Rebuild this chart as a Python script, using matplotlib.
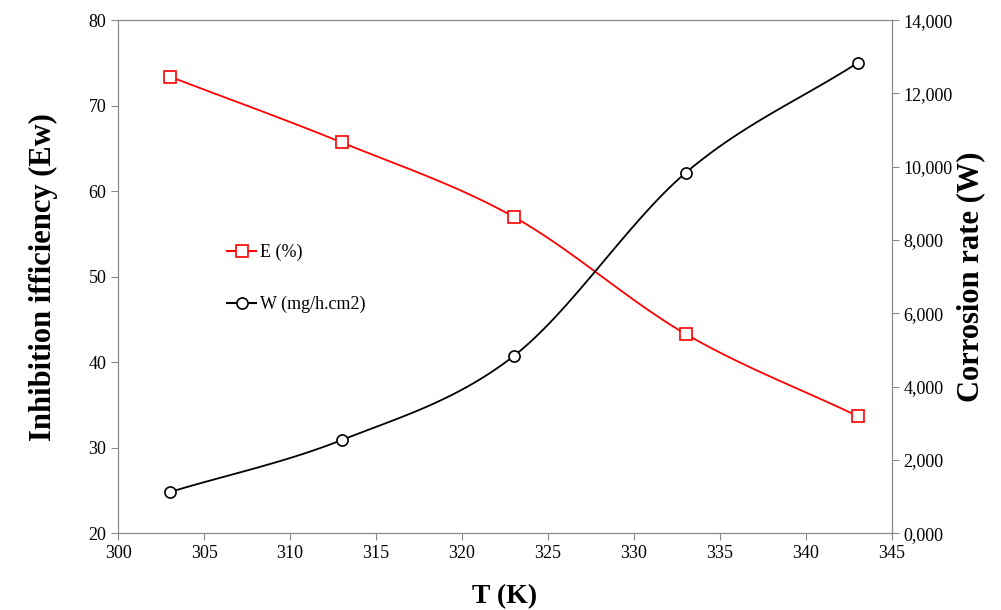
import numpy as np
import matplotlib
matplotlib.use('Agg')
import matplotlib.pyplot as plt
from matplotlib.ticker import FuncFormatter

plt.rcParams['font.family'] = ['Liberation Serif', 'DejaVu Serif']

# Data
T = [303, 313, 323, 333, 343]
E = [73.4, 65.7, 57.0, 43.3, 33.7]
W = [1120, 2540, 4830, 9830, 12830]


def smooth(x, y, n=30):
    # Catmull-Rom curve through the points, like Excel's smoothed line
    x = np.asarray(x, float); y = np.asarray(y, float)
    px = np.concatenate([[2*x[0]-x[1]], x, [2*x[-1]-x[-2]]])
    py = np.concatenate([[2*y[0]-y[1]], y, [2*y[-1]-y[-2]]])
    xs, ys = [], []
    t = np.linspace(0, 1, n)
    for i in range(1, len(px)-2):
        for p, out in ((px, xs), (py, ys)):
            p0, p1, p2, p3 = p[i-1:i+3]
            out.extend(0.5*((2*p1) + (-p0+p2)*t + (2*p0-5*p1+4*p2-p3)*t**2
                            + (-p0+3*p1-3*p2+p3)*t**3))
    return xs, ys


fig = plt.figure(figsize=(10.01, 6.10), dpi=100)
ax = fig.add_axes([0.118, 0.126, 0.773, 0.841])
ax2 = ax.twinx()

sx, sy = smooth(T, E)
ax.plot(sx, sy, color='red', lw=1.3)
ax.plot(T, E, 's', color='red', mfc='white', ms=8, mew=1.2)
sx, sy = smooth(T, W)
ax2.plot(sx, sy, color='black', lw=1.3)
ax2.plot(T, W, 'o', color='black', mfc='white', ms=8, mew=1.2)

ax.set_xlim(300, 345)
ax.set_ylim(20, 80)
ax2.set_ylim(0, 14000)
ax.set_xticks(range(300, 346, 5))
ax2.set_yticks(range(0, 14001, 2000))
ax2.yaxis.set_major_formatter(FuncFormatter(lambda v, p: f"{int(v)//1000},000"))

for a in (ax, ax2):
    for s in a.spines.values():
        s.set_color('#888888')
    a.tick_params(colors='#888888', labelcolor='black', labelsize=13, direction='out', length=5)

ax.set_xlabel('T (K)', fontsize=20, fontweight='bold', labelpad=16)
ax.set_ylabel('Inhibition ifficiency (Ew)', fontsize=22, fontweight='bold', labelpad=22)
ax2.set_ylabel('Corrosion rate (W)', fontsize=22, fontweight='bold', labelpad=2)

# legend proxies
l1, = ax.plot([], [], '-s', color='red', mfc='white', ms=8, mew=1.2)
l2, = ax.plot([], [], '-o', color='black', mfc='white', ms=8, mew=1.2)
ax.legend([l1, l2], ['E (%)', 'W (mg/h.cm2)'], loc='upper left',
          bbox_to_anchor=(0.12, 0.595), frameon=False, fontsize=13,
          handlelength=1.6, handletextpad=0.2, labelspacing=1.9)

fig.savefig('out.png')
